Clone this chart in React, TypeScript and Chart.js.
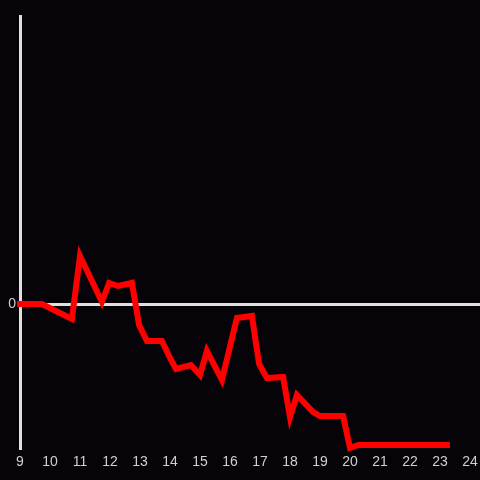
import React, { useEffect, useRef } from "react";
import { Chart, registerables } from "chart.js";

Chart.register(...registerables);

const xValues = [9, 9.73, 10.73, 11.0, 11.73, 11.97, 12.27, 12.73, 12.97, 13.23, 13.73, 14.0, 14.2, 14.7, 15.0, 15.23, 15.73, 16.23, 16.73, 16.97, 17.23, 17.77, 18.0, 18.23, 18.77, 19.0, 19.77, 20.0, 20.27, 23.23];
const yValues = [0, 0, -0.104, 0.333, 0.014, 0.146, 0.125, 0.146, -0.146, -0.257, -0.257, -0.375, -0.451, -0.424, -0.493, -0.326, -0.528, -0.097, -0.083, -0.417, -0.514, -0.507, -0.785, -0.632, -0.75, -0.778, -0.778, -1.0, -0.979, -0.979];
const xTicks = [9, 10, 11, 12, 13, 14, 15, 16, 17, 18, 19, 20, 21, 22, 23, 24];
const yTicks = [0];

export default function App() {
  const ref = useRef<HTMLCanvasElement | null>(null);
  useEffect(() => {
    document.body.style.margin = "0";
    document.body.style.background = "#060408";
    const canvas = ref.current!;
    const chart = new Chart(canvas, {
      type: "line",
      data: {
        datasets: [
          {
            data: xValues.map((x, i) => ({ x, y: yValues[i] })),
            borderColor: "#ff0000",
            borderWidth: 6,
            borderCapStyle: "square",
            borderJoinStyle: "miter",
            pointRadius: 0,
            tension: 0,
            fill: false,
            clip: false as any,
          },
        ],
      },
      options: {
        animation: false,
        responsive: false,
        maintainAspectRatio: false,
        layout: { padding: { top: 16, right: 0, left: 0, bottom: 0 } },
        plugins: { legend: { display: false }, tooltip: { enabled: false } },
        scales: {
          x: {
            type: "linear",
            min: 9,
            max: 24.333,
            afterBuildTicks: (axis: any) => {
              axis.ticks = xTicks.map((v) => ({ value: v }));
            },
            afterFit: (scale: any) => {
              scale.height = 32;
              scale.paddingRight = 0;
              scale.paddingLeft = 0;
            },
            grid: { display: false, drawTicks: false },
            border: { display: false },
            ticks: {
              color: "#d0d0d0",
              font: { family: "Liberation Sans", size: 14 },
              padding: 6,
              maxRotation: 0,
              autoSkip: false,
            },
          },
          y: {
            type: "linear",
            min: -1,
            max: 2,
            afterBuildTicks: (axis: any) => {
              axis.ticks = yTicks.map((v) => ({ value: v }));
            },
            afterFit: (scale: any) => {
              scale.width = 20;
            },
            grid: { display: true, color: "#e0e0e0", lineWidth: 3, drawTicks: false },
            border: { display: true, color: "#e0e0e0", width: 3 },
            ticks: {
              color: "#d0d0d0",
              font: { family: "Liberation Sans", size: 14 },
              padding: 4,
            },
          },
        },
      },
    });
    return () => chart.destroy();
  }, []);
  return (
    <div style={{ width: 480, height: 480, background: "#060408" }}>
      <canvas ref={ref} width={480} height={480} style={{ display: "block" }} />
    </div>
  );
}
